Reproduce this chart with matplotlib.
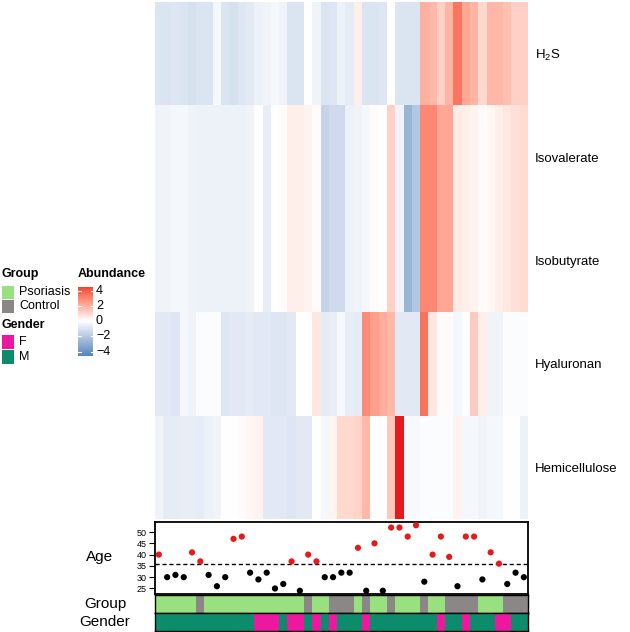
import numpy as np
import matplotlib
matplotlib.use("Agg")
import matplotlib.pyplot as plt
from matplotlib.colors import ListedColormap
from matplotlib.patches import Rectangle

plt.rcParams['font.family'] = ['Liberation Sans', 'DejaVu Sans']

# ---- data (45 samples) ----
metabolites = [r'$\mathregular{H_2S}$', 'Isovalerate', 'Isobutyrate', 'Hyaluronan', 'Hemicellulose']

h2s = [-1.0, -1.0, -0.9, -1.0, -1.1, -1.0, -1.0, -0.3, -1.0, -1.1, -0.9, -0.8,
       -0.5, -0.4, -0.3, -0.4, -1.0, -1.0, 0.0, -0.4, -1.0, -0.9, -0.5, -0.7,
       0.4, -1.0, -1.0, -0.9, 0.0, -1.0, -1.0, -1.0, 2.0, 1.8, 1.2, 1.9,
       3.4, 2.2, 1.9, 1.0, 1.8, 1.8, 1.6, 1.2, 1.2]
isovalerate = [-0.4, -0.4, -0.3, -0.3, -0.4, -0.5, -0.5, -0.5, -0.5, -0.5, -0.5, -0.4,
               0.0, -0.6, 0.0, 0.1, 0.4, 0.4, 0.3, 0.1, -1.6, -1.3, -1.3, -0.5,
               -0.4, -0.3, 0.1, 0.0, 1.2, -0.4, -2.8, -2.1, 3.0, 3.0, 2.2, 2.2,
               0.5, 0.4, 0.3, 0.1, 0.2, 0.4, 0.6, 0.8, 0.9]
isobutyrate = [-0.4, -0.4, -0.3, -0.3, -0.4, -0.5, -0.5, -0.5, -0.5, -0.5, -0.5, -0.4,
               0.0, -0.6, 0.0, 0.1, 0.4, 0.4, 0.3, 0.1, -1.6, -1.3, -1.3, -0.5,
               -0.4, -0.3, 0.1, 0.0, 1.2, -0.4, -2.8, -2.1, 3.0, 3.0, 2.2, 2.2,
               0.5, 0.4, 0.3, 0.1, 0.2, 0.4, 0.6, 0.8, 0.9]
hyaluronan = [-0.8, -0.8, -0.9, -0.3, -0.4, -0.1, -0.1, -0.1, -0.9, -0.8, -0.8, -0.7,
              -0.8, -0.8, -0.9, -0.9, -0.8, 0.0, 0.0, 0.6, -0.7, -0.6, -0.2, -0.6,
              -0.7, 2.9, 2.4, 2.1, 1.8, -0.8, -0.8, -0.8, 3.5, 0.6, 0.1, 0.1,
              -0.3, 0.0, 1.3, 0.4, -0.4, -0.4, -0.1, -0.1, -0.1]
hemicellulose = [-0.4, -0.7, -0.7, -0.6, -0.6, -0.7, -0.5, -0.4, 0.0, 0.0, 0.1, 0.2,
                 0.3, -0.8, -0.8, -0.8, -0.9, -0.8, -0.8, 0.0, -0.3, 0.3, 1.0, 1.0,
                 1.1, 1.8, 0.0, 0.0, 1.4, 5.0, -0.2, -0.2, -0.1, -0.1, -0.1, -0.1,
                 0.3, -0.3, -0.3, -0.4, -0.3, -0.3, 0.0, 0.0, -0.5]

age = [40, 30, 31, 30, 41, 37, 31, 26, 30, 47, 48, 32, 29, 32, 25, 27, 37, 24,
       40, 37, 30, 30, 32, 32, 43, 24, 45, 24, 52, 52, 48, 53, 28, 40, 48, 39,
       26, 48, 48, 29, 41, 36, 27, 32, 30]

group = ['Psoriasis'] * 45
for i in [5, 18, 21, 22, 23, 25, 28, 32, 35, 36, 37, 38, 42, 43, 44]:
    group[i] = 'Control'
gender = ['M'] * 45
for i in [12, 13, 14, 16, 17, 19, 21, 25, 34, 37, 41, 42]:
    gender[i] = 'F'

group_levels = ['Psoriasis', 'Control']
group_cols = ['#99e07f', '#8b8787']
gender_levels = ['F', 'M']
gender_cols = ['#ee18a0', '#0d8c6b']
legend_ticks = [4, 2, 0, -2, -4]


# ---- colour ramp interpolated in LAB like ComplexHeatmap ----
def srgb_to_lab(rgb):
    rgb = np.asarray(rgb, float)
    lin = np.where(rgb <= 0.04045, rgb / 12.92, ((rgb + 0.055) / 1.055) ** 2.4)
    m = np.array([[0.4124, 0.3576, 0.1805], [0.2126, 0.7152, 0.0722], [0.0193, 0.1192, 0.9505]])
    xyz = lin @ m.T / np.array([0.95047, 1.0, 1.08883])
    f = np.where(xyz > 0.008856, np.cbrt(xyz), 7.787 * xyz + 16 / 116)
    return np.stack([116 * f[..., 1] - 16, 500 * (f[..., 0] - f[..., 1]), 200 * (f[..., 1] - f[..., 2])], -1)


def lab_to_srgb(lab):
    L, a, b = lab[..., 0], lab[..., 1], lab[..., 2]
    fy = (L + 16) / 116
    f = np.stack([fy + a / 500, fy, fy - b / 200], -1)
    xyz = np.where(f > 0.2069, f ** 3, (f - 16 / 116) / 7.787) * np.array([0.95047, 1.0, 1.08883])
    minv = np.array([[3.2406, -1.5372, -0.4986], [-0.9689, 1.8758, 0.0415], [0.0557, -0.2040, 1.0570]])
    lin = np.clip(xyz @ minv.T, 0, 1)
    return np.where(lin <= 0.0031308, 12.92 * lin, 1.055 * lin ** (1 / 2.4) - 0.055).clip(0, 1)


blue = srgb_to_lab(matplotlib.colors.to_rgb('#377eb8'))
white = srgb_to_lab((1, 1, 1))
red = srgb_to_lab(matplotlib.colors.to_rgb('#e41a1c'))
t = np.linspace(-1, 1, 256)[:, None]
lab = np.where(t < 0, white + (-t) * (blue - white), white + t * (red - white))
cmap = ListedColormap(lab_to_srgb(lab))
VMAX = 5

W, H = 630, 632
fig = plt.figure(figsize=(6.3, 6.32), dpi=100)


def px_axes(x0, y0, x1, y1):
    return fig.add_axes([x0 / W, 1 - y1 / H, (x1 - x0) / W, (y1 - y0) / H])


# ---- heatmap ----
mat = np.array([h2s, isovalerate, isobutyrate, hyaluronan, hemicellulose])
ax = px_axes(154.7, 2, 528, 519)
ax.pcolormesh(np.arange(46), np.arange(6), mat, cmap=cmap, vmin=-VMAX, vmax=VMAX)
ax.set_xlim(0, 45)
ax.set_ylim(5, 0)
ax.set_xticks([])
ax.yaxis.tick_right()
ax.set_yticks(np.arange(5) + 0.5)
ax.set_yticklabels(metabolites, fontsize=9.5)
ax.tick_params(axis='y', length=0, pad=5)
for s in ax.spines.values():
    s.set_visible(False)

# ---- age annotation ----
ax_age = px_axes(154.7, 522, 528, 594)
xs = np.arange(45) + 0.5
mean_age = np.mean(age)
cols = ['#e41a1c' if a > mean_age else 'black' for a in age]
ax_age.scatter(xs, age, c=cols, s=20, edgecolors='none', zorder=3)
ax_age.axhline(mean_age, color='black', lw=1, ls=(0, (3, 2)))
rng = max(age) - min(age)
ax_age.set_ylim(min(age) - 0.05 * rng, max(age) + 0.05 * rng)
ax_age.set_xlim(0, 45)
ax_age.set_xticks([])
ax_age.set_yticks([25, 30, 35, 40, 45, 50])
ax_age.tick_params(axis='y', labelsize=6.5, length=4, width=0.8, pad=1.5)
for s in ax_age.spines.values():
    s.set_linewidth(1.3)

# ---- group / gender bars ----
for (y0, y1), values, levels, colours in [((595, 612.5), group, group_levels, group_cols),
                                         ((612.5, 631), gender, gender_levels, gender_cols)]:
    axb = px_axes(154.7, y0, 528, y1)
    codes = np.array([[levels.index(v) for v in values]])
    axb.pcolormesh(np.arange(46), [0, 1], codes, cmap=ListedColormap(colours), vmin=-0.5, vmax=len(levels) - 0.5)
    axb.set_xlim(0, 45)
    axb.set_xticks([])
    axb.set_yticks([])
    for s in axb.spines.values():
        s.set_linewidth(1.0)

fig.text(100 / W, 1 - 557 / H, 'Age', ha='center', va='center', fontsize=11)
fig.text(105 / W, 1 - 604 / H, 'Group', ha='center', va='center', fontsize=11)
fig.text(105 / W, 1 - 622 / H, 'Gender', ha='center', va='center', fontsize=11)

# ---- legends (drawn in pixel coordinates of a blank axes) ----
lg = px_axes(0, 260, 150, 372)
lg.set_xlim(0, 150)
lg.set_ylim(372, 260)
lg.axis('off')

lg.text(1.5, 274, 'Group', fontsize=9, fontweight='bold', va='center')
for i, (lab_, c) in enumerate(zip(group_levels, group_cols)):
    yc = 292 + 14.3 * i
    lg.add_patch(Rectangle((2, yc - 6.5), 12, 13, color=c, lw=0))
    lg.text(19, yc, lab_, fontsize=9, va='center')
lg.text(1.5, 325, 'Gender', fontsize=9, fontweight='bold', va='center')
for i, (lab_, c) in enumerate(zip(gender_levels, gender_cols)):
    yc = 341.7 + 15 * i
    lg.add_patch(Rectangle((2, yc - 7), 12, 14, color=c, lw=0))
    lg.text(19, yc, lab_, fontsize=9, va='center')

lg.text(78, 274, 'Abundance', fontsize=9, fontweight='bold', va='center')
vals = np.linspace(-4.5, 4.5, 101)
ypx = 321.2 - 7.625 * vals
lg.pcolormesh([78, 93], ypx, vals[:-1, None], cmap=cmap, vmin=-VMAX, vmax=VMAX)
for v in legend_ticks:
    yv = 321.2 - 7.625 * v
    lg.plot([78, 80.5], [yv, yv], color='white', lw=0.8)
    lg.plot([90.5, 93], [yv, yv], color='white', lw=0.8)
    lg.text(96, yv, f'{v}'.replace('-', '\u2212'), fontsize=9, va='center')

fig.savefig('out.png', dpi=100)
